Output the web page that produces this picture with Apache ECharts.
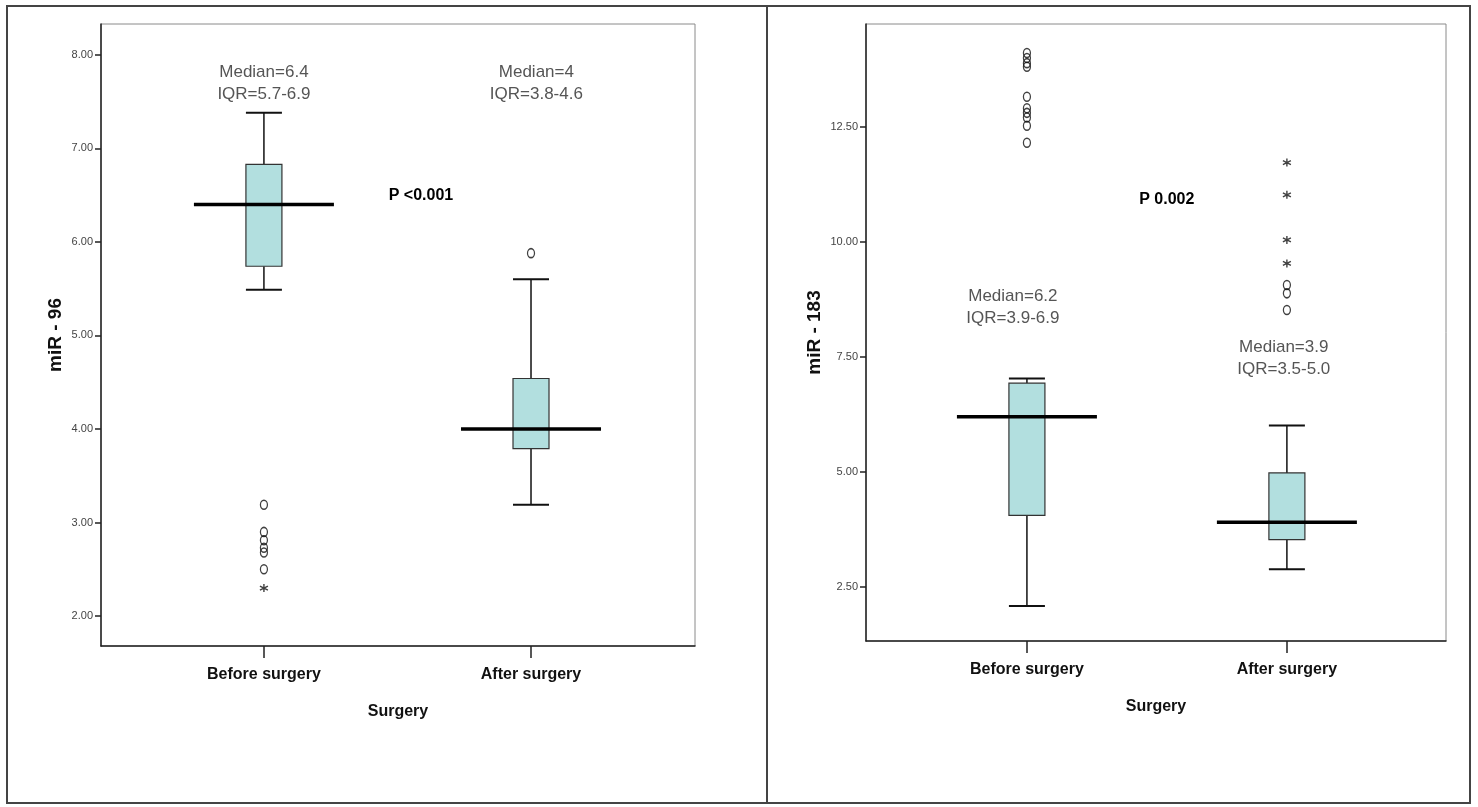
<!DOCTYPE html>
<html>
<head>
<meta charset="utf-8">
<script src="https://cdn.jsdelivr.net/npm/echarts@6/dist/echarts.min.js"></script>
<style>
html,body{margin:0;padding:0;background:#fff;}
#chart{width:1478px;height:807px;}
</style>
</head>
<body>
<div id="chart"></div>
<script>
// ---- data ----
const categories = ['Before surgery', 'After surgery'];
// [lower whisker, Q1, median, Q3, upper whisker]
const leftBox = [[5.49, 5.74, 6.40, 6.83, 7.38], [3.19, 3.79, 4.00, 4.54, 5.60]];
const leftOutliers = [[0, 3.19], [0, 2.90], [0, 2.81], [0, 2.73], [0, 2.68], [0, 2.50], [1, 5.88]];
const leftExtremes = [[0, 2.30]];
const leftTicks = [2, 3, 4, 5, 6, 7, 8];
const leftTexts = ['Median=6.4\nIQR=5.7-6.9', 'Median=4\nIQR=3.8-4.6'];
const leftP = ['P <0.001'];
const leftTitle = 'miR - 96';

const rightBox = [[2.09, 4.06, 6.20, 6.93, 7.03], [2.89, 3.53, 3.91, 4.98, 6.01]];
const rightOutliers = [[0, 14.10], [0, 13.99], [0, 13.88], [0, 13.80], [0, 13.15], [0, 12.90], [0, 12.80], [0, 12.70], [0, 12.52], [0, 12.15], [1, 9.06], [1, 8.88], [1, 8.52]];
const rightExtremes = [[1, 11.72], [1, 11.02], [1, 10.04], [1, 9.53]];
const rightTicks = [2.5, 5, 7.5, 10, 12.5];
const rightTexts = ['Median=6.2\nIQR=3.9-6.9', 'Median=3.9\nIQR=3.5-5.0'];
const rightP = ['P 0.002'];
const rightTitle = 'miR - 183';
const xTitle = 'Surgery';

// ---- styles ----
const SANS = "'Liberation Sans','Arial',sans-serif";
const starPath = 'path://M5 0 L5 10 M0.67 2.5 L9.33 7.5 M0.67 7.5 L9.33 2.5';

function renderBox(params, api) {
  const x = api.value(0);
  const lo = api.coord([x, api.value(1)]);
  const q1 = api.coord([x, api.value(2)]);
  const md = api.coord([x, api.value(3)]);
  const q3 = api.coord([x, api.value(4)]);
  const hi = api.coord([x, api.value(5)]);
  const cx = lo[0], bw = 36, mw = 140;
  const ls = {stroke: '#111', lineWidth: 1.5};
  return {type: 'group', children: [
    {type: 'line', shape: {x1: cx, y1: hi[1], x2: cx, y2: q3[1]}, style: ls},
    {type: 'line', shape: {x1: cx, y1: q1[1], x2: cx, y2: lo[1]}, style: ls},
    {type: 'line', shape: {x1: cx - bw / 2, y1: hi[1], x2: cx + bw / 2, y2: hi[1]}, style: {stroke: '#111', lineWidth: 2}},
    {type: 'line', shape: {x1: cx - bw / 2, y1: lo[1], x2: cx + bw / 2, y2: lo[1]}, style: {stroke: '#111', lineWidth: 2}},
    {type: 'rect', shape: {x: cx - bw / 2, y: q3[1], width: bw, height: q1[1] - q3[1]}, style: {fill: '#b2dfdf', stroke: '#333', lineWidth: 1.2}},
    {type: 'line', shape: {x1: cx - mw / 2, y1: md[1], x2: cx + mw / 2, y2: md[1]}, style: {stroke: '#000', lineWidth: 3.5}}
  ]};
}

function makeTextRenderer(texts, style) {
  return function (params, api) {
    const p = api.coord([api.value(0), api.value(1)]);
    return {type: 'text', x: p[0], y: p[1], style: Object.assign({text: texts[params.dataIndex], align: 'center', verticalAlign: 'middle'}, style)};
  };
}

const medStyle = {fill: '#555', font: "17px " + SANS, lineHeight: 22};
const pStyle = {fill: '#000', font: "bold 16px " + SANS};

function panel(idx, boxes, outliers, extremes, ticks, ymin, ymax, xmin, xmax, yTitle, yNameGap, texts, textPos, pTexts, pPos) {
  const xAxis = {
    gridIndex: idx, type: 'value', min: xmin, max: xmax,
    name: xTitle, nameLocation: 'middle', nameGap: 58,
    nameTextStyle: {fontFamily: SANS, fontWeight: 'bold', fontSize: 16, color: '#111'},
    axisLine: {show: true, onZero: false, lineStyle: {color: '#222', width: 1.5}},
    axisTick: {show: true, customValues: [0, 1], length: 12, lineStyle: {color: '#222', width: 1.5}},
    axisLabel: {customValues: [0, 1], formatter: v => categories[Math.round(v)], margin: 21,
      fontFamily: SANS, fontWeight: 'bold', fontSize: 16, color: '#111'},
    splitLine: {show: false}
  };
  const yAxis = {
    gridIndex: idx, type: 'value', min: ymin, max: ymax,
    name: yTitle, nameLocation: 'middle', nameRotate: 90, nameGap: yNameGap,
    nameTextStyle: {fontFamily: SANS, fontWeight: 'bold', fontSize: 19, color: '#111'},
    axisLine: {show: true, onZero: false, lineStyle: {color: '#222', width: 1.5}},
    axisTick: {show: true, customValues: ticks, length: 6, lineStyle: {color: '#222', width: 1.5}},
    axisLabel: {customValues: ticks, formatter: v => v.toFixed(2), margin: 8,
      fontFamily: SANS, fontSize: 11, color: '#444'},
    splitLine: {show: false}
  };
  const series = [
    {type: 'custom', xAxisIndex: idx, yAxisIndex: idx, renderItem: renderBox,
      data: boxes.map((b, i) => [i].concat(b)), encode: {x: 0, y: [1, 2, 3, 4, 5]}, silent: true, z: 2},
    {type: 'scatter', xAxisIndex: idx, yAxisIndex: idx, data: outliers, symbol: 'circle', symbolSize: [7, 9],
      itemStyle: {color: 'transparent', borderColor: '#111', borderWidth: 1.4}, silent: true, z: 3},
    {type: 'scatter', xAxisIndex: idx, yAxisIndex: idx, data: extremes, symbol: starPath, symbolSize: 8,
      itemStyle: {color: 'transparent', borderColor: '#111', borderWidth: 1.4}, silent: true, z: 3},
    {type: 'custom', xAxisIndex: idx, yAxisIndex: idx, renderItem: makeTextRenderer(texts, medStyle),
      data: textPos, silent: true, z: 4},
    {type: 'custom', xAxisIndex: idx, yAxisIndex: idx, renderItem: makeTextRenderer(pTexts, pStyle),
      data: pPos, silent: true, z: 4}
  ];
  return {xAxis, yAxis, series};
}

const L = panel(0, leftBox, leftOutliers, leftExtremes, leftTicks, 1.68, 8.33, -0.610, 1.614, leftTitle, 36,
  leftTexts, [[0, 7.70], [1.02, 7.70]], leftP, [[0.588, 6.50]]);
const R = panel(1, rightBox, rightOutliers, rightExtremes, rightTicks, 1.33, 14.73, -0.619, 1.612, rightTitle, 42,
  rightTexts, [[-0.054, 8.57], [0.988, 7.46]], rightP, [[0.538, 10.91]]);

const chart = echarts.init(document.getElementById('chart'), null, {renderer: 'canvas'});
chart.setOption({
  animation: false,
  backgroundColor: '#fff',
  grid: [
    {left: 101, top: 24, width: 594, height: 622, show: true, borderColor: '#8a8a8a', borderWidth: 1, containLabel: false},
    {left: 866, top: 24, width: 580, height: 617, show: true, borderColor: '#8a8a8a', borderWidth: 1, containLabel: false}
  ],
  xAxis: [L.xAxis, R.xAxis],
  yAxis: [L.yAxis, R.yAxis],
  series: L.series.concat(R.series),
  graphic: [
    {type: 'rect', shape: {x: 7, y: 6, width: 1463, height: 797}, style: {fill: 'none', stroke: '#444', lineWidth: 2}, silent: true},
    {type: 'line', shape: {x1: 767, y1: 6, x2: 767, y2: 803}, style: {stroke: '#444', lineWidth: 2}, silent: true}
  ]
});
</script>
</body>
</html>
